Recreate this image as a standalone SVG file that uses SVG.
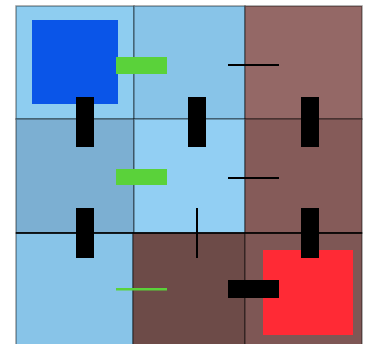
<svg xmlns="http://www.w3.org/2000/svg" width="365" height="344" viewBox="0 0 365 344">
<style>
.cell{stroke:#000;stroke-opacity:0.4;stroke-width:1.5}
.bar{fill:#000}
.g{fill:#5ad23a}
.thin{stroke:#000;stroke-width:2}
</style>
<rect width="365" height="344" fill="#fff"/>
<g id="cells">
<rect id="c11" class="cell" x="16" y="6" width="118" height="113" fill="#8ecdf0"/>
<rect id="c12" class="cell" x="134" y="6" width="111" height="113" fill="#88c4e8"/>
<rect id="c13" class="cell" x="245" y="6" width="117" height="113" fill="#946866"/>
<rect id="c21" class="cell" x="16" y="119" width="118" height="114" fill="#7cafd2"/>
<rect id="c22" class="cell" x="134" y="119" width="111" height="114" fill="#92cff3"/>
<rect id="c23" class="cell" x="245" y="119" width="117" height="114" fill="#855b59"/>
<rect id="c31" class="cell" x="16" y="233" width="117" height="115" fill="#88c4e8"/>
<rect id="c32" class="cell" x="133" y="233" width="112" height="115" fill="#6d4b48"/>
<rect id="c33" class="cell" x="245" y="233" width="117" height="115" fill="#7e5755"/>
<line x1="16" y1="233" x2="362" y2="233" stroke="#000" stroke-width="2" stroke-opacity="0.8"/>
</g>
<g id="agent"><rect x="32" y="20" width="86" height="84" fill="#0a55e8"/></g>
<g id="goal"><rect x="263" y="250" width="90" height="85" fill="#ff2a35"/></g>
<g id="connectors">
<rect class="g" x="116" y="57" width="51" height="17"/>
<rect class="g" x="116" y="169" width="51" height="16"/>
<rect class="g" x="116" y="288" width="51" height="2.5"/>
<rect class="bar" x="76" y="97" width="18" height="50"/>
<rect class="bar" x="188" y="97" width="18" height="50"/>
<rect class="bar" x="301" y="97" width="18" height="50"/>
<rect class="bar" x="76" y="208" width="18" height="50"/>
<rect class="bar" x="301" y="208" width="18" height="50"/>
<rect class="bar" x="228" y="280" width="51" height="18"/>
<line class="thin" x1="228" y1="65" x2="279" y2="65"/>
<line class="thin" x1="228" y1="178" x2="279" y2="178"/>
<line class="thin" x1="197" y1="208" x2="197" y2="258"/>
</g>
</svg>
